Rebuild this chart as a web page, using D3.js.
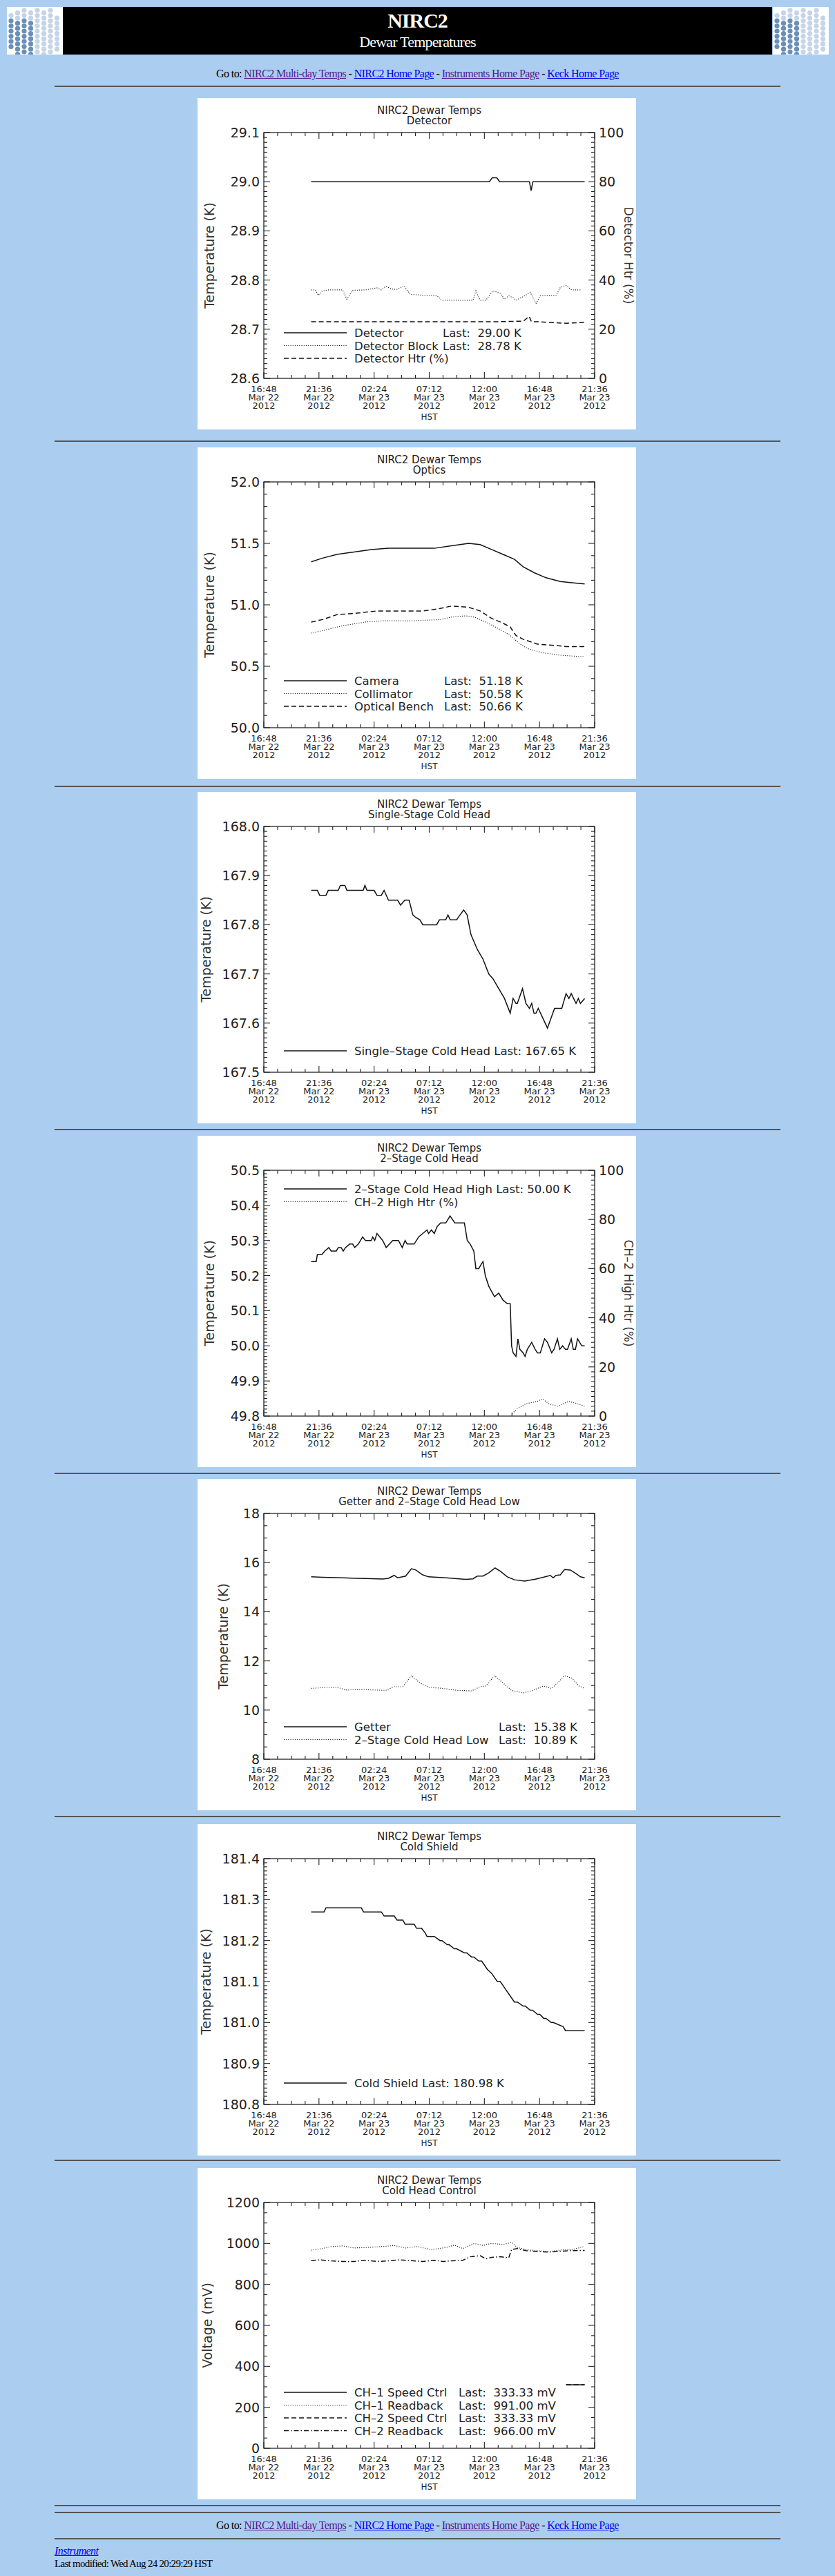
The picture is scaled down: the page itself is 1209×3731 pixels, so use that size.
<!DOCTYPE html>
<html><head><meta charset="utf-8">
<script src="https://cdn.jsdelivr.net/npm/d3@7"></script>
<style>
body{margin:0;background:#aacdf0;width:1209px;height:3731px;position:relative;overflow:hidden;font-family:"Liberation Serif",serif;}
.abs{position:absolute;}
.hr{position:absolute;left:79px;width:1051px;height:0;border-top:2px solid #555;}
.links{position:absolute;left:0;width:1209px;text-align:center;font-size:16px;letter-spacing:-0.6px;color:#000;}
.links a.v{color:#551a8b;} .links a.n{color:#0000ee;}
.panel{position:absolute;left:286px;width:635px;height:480px;background:#fff;}
</style></head><body>
<script>
// ---------- data (hours after 16:48 Mar 22 2012 HST) ----------
const tickLabels=[["16:48","Mar 22","2012"],["21:36","Mar 22","2012"],["02:24","Mar 23","2012"],["07:12","Mar 23","2012"],["12:00","Mar 23","2012"],["16:48","Mar 23","2012"],["21:36","Mar 23","2012"]];
const tickHours=[0,4.8,9.6,14.4,19.2,24,28.8];

const detHours=[4.12,19.63,19.88,20.28,20.53,23.12,23.27,23.42,27.93];
const detVals=[29.0,29.0,29.008,29.008,29.0,29.0,28.982,29.0,29.0];
const blockHours=[4.12,4.49,4.74,5.11,5.61,6.86,7.23,7.73,8.85,9.85,10.23,10.60,11.10,11.60,12.22,12.72,13.84,15.09,15.46,16.83,18.21,18.46,18.83,19.33,19.95,20.58,20.95,21.32,21.70,21.95,22.57,23.19,23.69,24.07,25.44,25.81,26.31,26.81,27.68];
const blockVals=[28.780,28.780,28.769,28.778,28.780,28.780,28.761,28.779,28.780,28.784,28.780,28.787,28.782,28.781,28.788,28.771,28.769,28.768,28.759,28.759,28.759,28.778,28.759,28.759,28.778,28.773,28.761,28.768,28.764,28.759,28.766,28.775,28.752,28.768,28.768,28.785,28.789,28.780,28.780];
const htrHours=[4.12,8,12,16,20,22.6,23.1,23.3,24,26.3,27.93];
const htrVals=[23,23,23,23,23,23.3,25.2,23,23,22.4,22.8];

const camHours=[4.12,5.11,6.36,7.86,9.35,10.85,14.84,16.33,17.83,18.83,19.83,20.83,21.82,22.57,23.57,24.57,25.81,26.81,27.93];
const camVals=[51.35,51.38,51.41,51.43,51.45,51.46,51.46,51.48,51.50,51.49,51.45,51.41,51.37,51.31,51.26,51.22,51.19,51.18,51.17];
const benchHours=[4.12,5.11,6.36,7.86,9.85,11.85,13.84,15.34,16.33,17.83,18.83,19.83,20.83,21.45,21.95,22.57,23.82,25.31,26.31,27.93];
const benchVals=[50.86,50.88,50.92,50.93,50.95,50.95,50.95,50.97,50.99,50.98,50.95,50.89,50.85,50.82,50.75,50.72,50.68,50.67,50.66,50.66];
const collHours=[4.12,5.11,6.86,8.85,10.35,12.85,15.34,16.33,17.58,18.33,19.33,20.33,21.32,22.32,23.07,24.32,25.81,27.31,27.81];
const collVals=[50.77,50.79,50.83,50.86,50.87,50.87,50.88,50.90,50.91,50.90,50.86,50.81,50.76,50.68,50.64,50.61,50.59,50.58,50.58];

const sscHours=[4.12,4.66,4.86,5.41,5.61,6.48,6.66,7.06,7.23,8.65,8.80,8.98,9.60,9.85,10.23,10.47,10.85,11.65,11.90,12.27,12.65,12.97,13.22,13.59,13.84,15.04,15.29,15.83,16.03,16.23,16.78,17.08,17.40,17.70,18.03,18.58,19.08,19.58,19.95,20.45,20.95,21.45,21.70,21.95,22.07,22.52,22.82,23.12,23.32,23.52,23.69,23.89,24.69,25.31,25.94,26.31,26.56,26.76,27.18,27.38,27.56,27.93];
const sscVals=[167.87,167.87,167.86,167.86,167.87,167.87,167.88,167.88,167.87,167.87,167.88,167.87,167.87,167.86,167.86,167.87,167.85,167.85,167.84,167.85,167.85,167.82,167.815,167.81,167.80,167.80,167.81,167.81,167.82,167.81,167.81,167.82,167.83,167.82,167.78,167.75,167.73,167.70,167.69,167.67,167.65,167.62,167.65,167.64,167.64,167.67,167.64,167.63,167.64,167.62,167.62,167.63,167.59,167.63,167.63,167.66,167.65,167.66,167.64,167.65,167.64,167.65];

const hiHours=[4.12,4.56,4.66,5.06,5.31,5.66,5.86,6.31,6.48,6.73,6.91,7.11,7.48,7.73,7.91,8.23,8.60,8.85,9.35,9.48,9.65,9.85,10.35,10.65,11.22,11.72,12.05,12.30,12.47,13.09,13.47,13.84,14.21,14.34,14.59,14.84,15.09,15.39,15.84,16.21,16.63,17.46,17.71,17.96,18.28,18.46,18.71,18.88,19.08,19.28,19.58,20.08,20.45,20.83,21.20,21.45,21.57,21.70,21.95,22.12,22.29,22.57,22.74,22.94,23.32,23.62,23.82,24.07,24.44,24.69,25.06,25.26,25.56,25.76,26.01,26.26,26.44,26.76,26.94,27.13,27.31,27.68,27.93];
const hiVals=[50.24,50.24,50.26,50.26,50.27,50.28,50.27,50.27,50.28,50.28,50.27,50.28,50.29,50.29,50.28,50.29,50.31,50.30,50.30,50.31,50.30,50.32,50.30,50.28,50.30,50.30,50.28,50.30,50.29,50.29,50.31,50.32,50.33,50.32,50.33,50.32,50.34,50.35,50.35,50.37,50.35,50.35,50.30,50.29,50.27,50.22,50.22,50.23,50.24,50.20,50.17,50.14,50.15,50.13,50.12,50.12,50.00,49.98,49.97,50.02,49.99,49.98,49.97,49.99,50.01,49.99,49.98,49.98,50.02,50.01,49.98,49.99,50.02,49.99,50.00,49.99,49.99,50.02,49.99,49.99,50.02,50.00,50.00];
const ch2HtrHours=[21.62,22.07,22.82,23.82,24.27,24.82,25.56,26.56,27.31,27.93];
const ch2HtrVals=[1,3,5,6,7,5,4,6,5,4];

const getHours=[4.12,5.11,6.86,8.85,10.35,10.85,11.35,11.65,12.35,12.85,13.22,13.84,14.34,15.84,17.58,18.21,18.58,19.08,19.58,20.13,20.58,21.20,21.82,22.70,23.57,24.32,24.94,25.19,25.44,25.81,26.18,26.68,27.18,27.56,27.93];
const getVals=[15.42,15.40,15.38,15.35,15.33,15.36,15.48,15.38,15.45,15.75,15.70,15.50,15.42,15.38,15.32,15.34,15.45,15.45,15.58,15.78,15.65,15.42,15.30,15.25,15.32,15.40,15.48,15.38,15.48,15.50,15.72,15.70,15.55,15.42,15.38];
const lowHours=[4.12,5.36,6.36,7.11,8.85,10.60,11.35,12.10,12.85,13.59,14.34,15.59,16.83,18.08,18.83,19.33,20.08,20.83,21.57,22.57,23.32,24.32,25.06,25.56,26.18,26.81,27.43,27.93];
const lowVals=[10.88,10.92,10.93,10.82,10.83,10.80,10.95,10.95,11.40,11.10,10.93,10.88,10.80,10.78,10.95,10.98,11.40,11.10,10.80,10.70,10.78,10.98,10.88,11.10,11.40,11.30,10.98,10.88];

const shieldHours=[4.12,5.24,5.41,8.48,8.68,10.23,10.47,11.35,11.60,12.10,12.30,13.09,13.29,13.72,14.02,14.21,14.84,15.34,15.51,15.96,16.13,16.58,16.78,17.46,17.66,18.08,18.28,18.71,18.96,19.21,19.45,19.83,20.08,20.33,20.58,20.83,21.07,21.32,21.57,21.82,22.07,22.57,22.77,23.19,23.39,23.82,24.02,24.37,24.57,25.01,25.19,26.06,26.26,27.93];
const shieldVals=[181.27,181.27,181.28,181.28,181.27,181.27,181.26,181.26,181.25,181.25,181.24,181.24,181.23,181.23,181.22,181.21,181.21,181.20,181.20,181.19,181.19,181.18,181.18,181.17,181.17,181.16,181.16,181.15,181.15,181.14,181.13,181.12,181.11,181.10,181.10,181.09,181.08,181.07,181.06,181.05,181.05,181.04,181.04,181.03,181.03,181.02,181.02,181.01,181.01,181.00,181.00,180.99,180.98,180.98];

const rb1Hours=[4.12,5.11,5.86,6.86,7.86,8.85,10.35,11.35,12.35,13.34,14.59,15.84,16.58,17.33,18.33,19.08,19.83,20.83,21.57,22.07,22.82,23.82,24.82,25.81,26.81,27.93];
const rb1Vals=[967,975,985,988,978,980,985,990,978,985,970,980,992,975,1000,990,1000,995,1005,980,970,965,960,968,970,985];
const rb2Hours=[4.12,4.86,5.86,6.86,7.86,8.85,9.85,10.85,11.85,12.85,13.84,14.84,15.59,16.33,17.33,17.96,18.83,19.33,19.83,20.58,21.32,21.57,22.07,22.82,23.82,24.82,25.81,26.81,27.93];
const rb2Vals=[916,920,915,912,912,918,912,915,920,916,912,918,912,915,918,935,940,925,932,935,930,970,975,965,960,958,962,965,966];
const sp1Hours=[26.31,27.93];
const sp1Vals=[310,310];
const sp2Hours=[26.31,27.93];
const sp2Vals=[310,310];

// ---------- panel definitions ----------
const panels=[
 {top:142,sub:"Detector",y:[28.6,29.1],step:0.1,fmt:".1f",minor:10,ylab:"Temperature (K)",ylx:24,
  y2:{dom:[0,100],step:20,minor:10,lab:"Detector Htr (%)"},lastX:259,legTop:290,
  series:[{h:detHours,v:detVals,st:"solid",name:"Detector",last:"Last:  29.00 K"},
          {h:blockHours,v:blockVals,st:"dot",name:"Detector Block",last:"Last:  28.78 K"},
          {h:htrHours,v:htrVals,st:"dash",name:"Detector Htr (%)",ax:2}]},
 {top:648,sub:"Optics",y:[50,52],step:0.5,fmt:".1f",minor:5,ylab:"Temperature (K)",ylx:24,lastX:261,legTop:288,
  series:[{h:camHours,v:camVals,st:"solid",name:"Camera",last:"Last:  51.18 K"},
          {h:collHours,v:collVals,st:"dot",name:"Collimator",last:"Last:  50.58 K"},
          {h:benchHours,v:benchVals,st:"dash",name:"Optical Bench",last:"Last:  50.66 K"}]},
 {top:1147,sub:"Single-Stage Cold Head",y:[167.5,168],step:0.1,fmt:".1f",minor:10,ylab:"Temperature (K)",ylx:19,legTop:325,
  series:[{h:sscHours,v:sscVals,st:"solid",name:"Single\u2013Stage Cold Head Last: 167.65 K"}]},
 {top:1645,sub:"2\u2013Stage Cold Head",y:[49.8,50.5],step:0.1,fmt:".1f",minor:10,ylab:"Temperature (K)",ylx:24,
  y2:{dom:[0,100],step:20,minor:10,lab:"CH\u20132 High Htr (%)"},legTop:27,
  series:[{h:hiHours,v:hiVals,st:"solid",name:"2\u2013Stage Cold Head High Last:  50.00 K"},
          {h:ch2HtrHours,v:ch2HtrVals,st:"dot",name:"CH\u20132 High Htr (%)",ax:2}]},
 {top:2142,sub:"Getter and 2\u2013Stage Cold Head Low",y:[8,18],step:2,fmt:"d",minor:4,ylab:"Temperature (K)",ylx:44,lastX:340,legTop:309,
  series:[{h:getHours,v:getVals,st:"solid",name:"Getter",last:"Last:  15.38 K"},
          {h:lowHours,v:lowVals,st:"dot",name:"2\u2013Stage Cold Head Low",last:"Last:  10.89 K"}]},
 {top:2642,sub:"Cold Shield",y:[180.8,181.4],step:0.1,fmt:".1f",minor:10,ylab:"Temperature (K)",ylx:19,legTop:325,
  series:[{h:shieldHours,v:shieldVals,st:"solid",name:"Cold Shield Last: 180.98 K"}]},
 {top:3140,sub:"Cold Head Control",y:[0,1200],step:200,fmt:"d",minor:4,ylab:"Voltage (mV)",ylx:21,lastX:282,legTop:275,
  series:[{h:sp1Hours,v:sp1Vals,st:"solid",name:"CH\u20131 Speed Ctrl",last:"Last:  333.33 mV"},
          {h:rb1Hours,v:rb1Vals,st:"dot",name:"CH\u20131 Readback",last:"Last:  991.00 mV"},
          {h:sp2Hours,v:sp2Vals,st:"dash",name:"CH\u20132 Speed Ctrl",last:"Last:  333.33 mV"},
          {h:rb2Hours,v:rb2Vals,st:"dashdot",name:"CH\u20132 Readback",last:"Last:  966.00 mV"}]}
];
const hrYs=[124,638,1138,1635,2133,2630,3128,3628,3638,3676];

const body=d3.select("body");
body.append("div").attr("class","abs").style("left","91px").style("top","10px").style("width","1027px").style("height","69px").style("background","#000");
body.append("div").attr("class","abs").style("left","91px").style("top","13px").style("width","1027px").style("text-align","center").style("color","#fff").style("font-size","30px").style("font-weight","bold").style("letter-spacing","-1px").text("NIRC2");
body.append("div").attr("class","abs").style("left","91px").style("top","48px").style("width","1027px").style("text-align","center").style("color","#fff").style("font-size","22px").style("letter-spacing","-0.8px").text("Dewar Temperatures");
function logo(x){
  const s=body.append("svg").attr("class","abs").style("left",x+"px").style("top","10px").attr("width",81).attr("height",69);
  s.append("rect").attr("width",81).attr("height",69).attr("fill","#fff");
  for(let c=0;c<8;c++)for(let r=0;r<9;r++){
    const cx=6+c*9.5, cy=5+r*7.5+(c%2?3.7:0);
    const dx=Math.abs(c-3.5), dy=Math.abs(r-4);
    if(dx+dy*0.8>6.2)continue;
    const dark=(c<=3 && r>=2);
    s.append("circle").attr("cx",cx).attr("cy",cy).attr("r",3.6).attr("fill",dark?"#6a8fb8":"#c5d4e6");
  }
}
logo(10);logo(1119);
function links(y){
  body.append("div").attr("class","links").style("top",y+"px").html('Go to: <a class="v" href="#">NIRC2 Multi-day Temps</a> - <a class="n" href="#">NIRC2 Home Page</a> - <a class="v" href="#">Instruments Home Page</a> - <a class="n" href="#">Keck Home Page</a>');
}
links(98);links(3649);
hrYs.forEach(y=>body.append("div").attr("class","hr").style("top",y+"px"));
body.append("div").attr("class","abs").style("left","79px").style("top","3686px").style("font-size","16px").style("font-style","italic").style("letter-spacing","-0.6px").html('<a href="#" style="color:#0000ee">Instrument</a>');
body.append("div").attr("class","abs").style("left","79px").style("top","3705px").style("font-size","15px").style("letter-spacing","-0.7px").text("Last modified: Wed Aug 24 20:29:29 HST");

const PL=96,PT=50,PW=479,PH=356,INK="#222",FONT="'DejaVu Sans',sans-serif";
const dashes={solid:null,dot:"1,2.2",dash:"7,4",dashdot:"7,3,1.5,3"};
panels.forEach(p=>{
  const svg=body.append("svg").attr("class","panel").style("top",p.top+"px").attr("width",635).attr("height",480)
    .style("font-family",FONT);
  svg.append("rect").attr("width",635).attr("height",480).attr("fill","#fff");
  svg.append("text").attr("x",PL+PW/2).attr("y",23).attr("text-anchor","middle").attr("font-size",15).attr("fill",INK).text("NIRC2 Dewar Temps");
  svg.append("text").attr("x",PL+PW/2).attr("y",38).attr("text-anchor","middle").attr("font-size",15).attr("fill",INK).text(p.sub);
  const g=svg.append("g").attr("transform",`translate(${PL},${PT})`);
  const x=d3.scaleLinear().domain([0,28.8]).range([0,PW]);
  const y=d3.scaleLinear().domain(p.y).range([PH,0]);
  const nMaj=Math.round((p.y[1]-p.y[0])/p.step);
  const maj=d3.range(nMaj+1).map(i=>p.y[0]+i*p.step);
  const mnr=d3.range(nMaj*p.minor+1).map(i=>p.y[0]+i*p.step/p.minor);
  const xMinor=d3.range(25).map(i=>i*1.2);
  g.append("rect").attr("width",PW).attr("height",PH).attr("fill","none").attr("stroke",INK).attr("stroke-width",1.3);
  const tk=g.append("g").attr("stroke",INK).attr("stroke-width",1.1);
  xMinor.forEach(h=>{const L=(Math.abs(h/4.8-Math.round(h/4.8))<1e-6)?9:5;
    tk.append("line").attr("x1",x(h)).attr("x2",x(h)).attr("y1",PH).attr("y2",PH-L);
    tk.append("line").attr("x1",x(h)).attr("x2",x(h)).attr("y1",0).attr("y2",L);});
  const y2=p.y2?d3.scaleLinear().domain(p.y2.dom).range([PH,0]):null;
  mnr.forEach(v=>{const isM=maj.some(m=>Math.abs(m-v)<1e-9);const L=isM?9:5;
    tk.append("line").attr("x1",0).attr("x2",L).attr("y1",y(v)).attr("y2",y(v));
    if(!y2)tk.append("line").attr("x1",PW).attr("x2",PW-L).attr("y1",y(v)).attr("y2",y(v));});
  if(y2){const n2=(p.y2.dom[1]-p.y2.dom[0])/p.y2.step;
    d3.range(n2*p.y2.minor+1).map(i=>i*p.y2.step/p.y2.minor).forEach(v=>{
      const isM=Math.abs(v/p.y2.step-Math.round(v/p.y2.step))<1e-9;const L=isM?9:5;
      tk.append("line").attr("x1",PW).attr("x2",PW-L).attr("y1",y2(v)).attr("y2",y2(v));});
    d3.range(n2+1).map(i=>i*p.y2.step).forEach(v=>g.append("text").attr("x",PW+6).attr("y",y2(v)+7).attr("font-size",19).attr("fill",INK).text(v));
    g.append("text").attr("transform",`translate(${PW+43},${PH/2}) rotate(90)`).attr("text-anchor","middle").attr("font-size",17).attr("fill","#333").text(p.y2.lab);
  }
  const f=d3.format(p.fmt);
  maj.forEach(v=>g.append("text").attr("x",-6).attr("y",y(v)+7).attr("text-anchor","end").attr("font-size",19).attr("fill",INK).text(f(v)));
  svg.append("text").attr("transform",`translate(${p.ylx},${PT+PH/2}) rotate(-90)`).attr("text-anchor","middle").attr("font-size",19).attr("fill","#333").text(p.ylab);
  tickHours.forEach((h,i)=>{tickLabels[i].forEach((s,j)=>g.append("text").attr("x",x(h)).attr("y",PH+20+j*12).attr("text-anchor","middle").attr("font-size",13).attr("fill",INK).text(s));});
  g.append("text").attr("x",PW/2).attr("y",PH+60).attr("text-anchor","middle").attr("font-size",12).attr("fill",INK).text("HST");
  p.series.forEach((s,si)=>{
    const ys=s.ax===2?y2:y;
    const line=d3.line().x((d,i)=>x(s.h[i])).y((d,i)=>ys(s.v[i]));
    g.append("path").datum(s.v).attr("d",line).attr("fill","none").attr("stroke","#111")
      .attr("stroke-width",s.st==="dot"?1.2:1.5).attr("stroke-dasharray",dashes[s.st]);
    const ly=p.legTop+si*18.5;
    g.append("line").attr("x1",29).attr("x2",120).attr("y1",ly).attr("y2",ly).attr("stroke","#111")
      .attr("stroke-width",s.st==="dot"?1.2:1.4).attr("stroke-dasharray",dashes[s.st]);
    g.append("text").attr("x",131).attr("y",ly+6).attr("font-size",16.5).attr("fill",INK).text(s.name);
    if(s.last)g.append("text").attr("x",p.lastX).attr("y",ly+6).attr("font-size",16.5).attr("fill",INK).style("white-space","pre").text(s.last);
  });
});
</script></body></html>
